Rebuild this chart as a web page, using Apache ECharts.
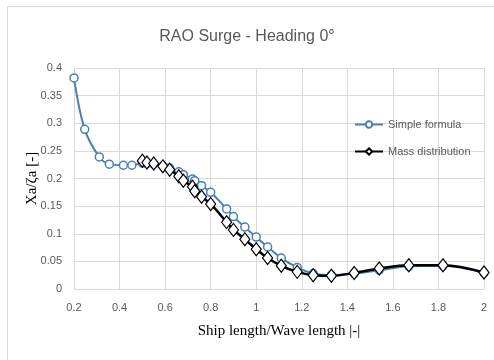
<!DOCTYPE html>
<html>
<head>
<meta charset="utf-8">
<script src="https://cdn.jsdelivr.net/npm/echarts@6/dist/echarts.min.js"></script>
<style>
  html, body { margin: 0; padding: 0; background: #fff; }
  #chart { width: 494px; height: 360px; }
</style>
</head>
<body>
<div id="chart"></div>
<script>
// ratio ship length / wave length
const simpleX = [0.2, 0.247, 0.311, 0.355, 0.417, 0.454, 0.5, 0.52, 0.55, 0.59, 0.62, 0.66, 0.68, 0.72, 0.73, 0.76, 0.8, 0.87, 0.9, 0.95, 1.0, 1.05, 1.11, 1.18, 1.25, 1.33, 1.43, 1.54, 1.67, 1.82, 2.0];
const simpleY = [0.382, 0.289, 0.239, 0.226, 0.224, 0.224, 0.228, 0.227, 0.226, 0.223, 0.219, 0.212, 0.207, 0.199, 0.196, 0.187, 0.175, 0.145, 0.131, 0.112, 0.094, 0.076, 0.056, 0.039, 0.028, 0.025, 0.028, 0.034, 0.041, 0.042, 0.029];

const massX = [0.5, 0.52, 0.55, 0.59, 0.62, 0.66, 0.68, 0.72, 0.73, 0.76, 0.8, 0.87, 0.9, 0.95, 1.0, 1.05, 1.11, 1.18, 1.25, 1.33, 1.43, 1.54, 1.67, 1.82, 2.0];
const massY = [0.232, 0.229, 0.227, 0.222, 0.216, 0.204, 0.196, 0.185, 0.177, 0.167, 0.154, 0.121, 0.107, 0.09, 0.072, 0.056, 0.042, 0.031, 0.025, 0.024, 0.029, 0.037, 0.043, 0.043, 0.03];

const pairs = (xs, ys) => xs.map((x, i) => [x, ys[i]]);

const labelFont = '"Liberation Sans", sans-serif';
const gridColor = '#d9d9d9';

const chart = echarts.init(document.getElementById('chart'));
chart.setOption({
  animation: false,
  title: {
    text: 'RAO Surge - Heading 0°',
    left: 'center',
    top: 24,
    textStyle: { fontFamily: labelFont, fontSize: 16, fontWeight: 'normal', color: '#595959' }
  },
  graphic: [{
    type: 'rect',
    shape: { x: 7.5, y: 6.5, width: 490, height: 360 },
    style: { fill: 'none', stroke: '#d9d9d9', lineWidth: 1 },
    silent: true
  }],
  legend: {
    orient: 'vertical',
    left: 349,
    top: 114,
    itemGap: 16,
    itemWidth: 28,
    itemHeight: 8,
    textStyle: { fontFamily: labelFont, fontSize: 11, color: '#595959' },
    data: ['Simple formula', 'Mass distribution']
  },
  grid: { left: 74, right: 10, top: 68, bottom: 71 },
  xAxis: {
    type: 'value',
    min: 0.2,
    max: 2,
    interval: 0.2,
    name: 'Ship length/Wave length |-|',
    nameLocation: 'middle',
    nameGap: 35,
    nameTextStyle: { fontFamily: '"Liberation Serif", serif', fontSize: 15, color: '#000' },
    axisLine: { lineStyle: { color: gridColor } },
    axisTick: { show: false },
    axisLabel: {
      fontFamily: labelFont, fontSize: 11, color: '#595959', margin: 13,
      formatter: v => String(+v.toFixed(1))
    },
    splitLine: { lineStyle: { color: gridColor } }
  },
  yAxis: {
    type: 'value',
    min: 0,
    max: 0.4,
    interval: 0.05,
    name: 'Xa/ζa [-]',
    nameLocation: 'middle',
    nameGap: 34,
    nameMoveOverlap: false,
    nameTextStyle: { fontFamily: '"Liberation Serif", serif', fontSize: 15, color: '#000' },
    axisLine: { show: true, lineStyle: { color: gridColor } },
    axisTick: { show: false },
    axisLabel: {
      fontFamily: labelFont, fontSize: 11, color: '#595959', margin: 12,
      formatter: v => String(+v.toFixed(2))
    },
    splitLine: { lineStyle: { color: gridColor } }
  },
  series: [
    {
      name: 'Simple formula',
      type: 'line',
      smooth: 0.35,
      data: pairs(simpleX, simpleY),
      symbol: 'circle',
      symbolSize: 8,
      lineStyle: { color: '#4a7ebb', width: 2 },
      itemStyle: { color: '#ffffff', borderColor: '#4a7ebb', borderWidth: 1.5 },
      z: 2
    },
    {
      name: 'Mass distribution',
      type: 'line',
      smooth: 0.35,
      data: pairs(massX, massY),
      symbol: 'diamond',
      symbolSize: [10, 13],
      lineStyle: { color: '#000000', width: 2.5 },
      itemStyle: { color: '#ffffff', borderColor: '#000000', borderWidth: 1.2 },
      z: 3
    }
  ]
});
</script>
</body>
</html>
